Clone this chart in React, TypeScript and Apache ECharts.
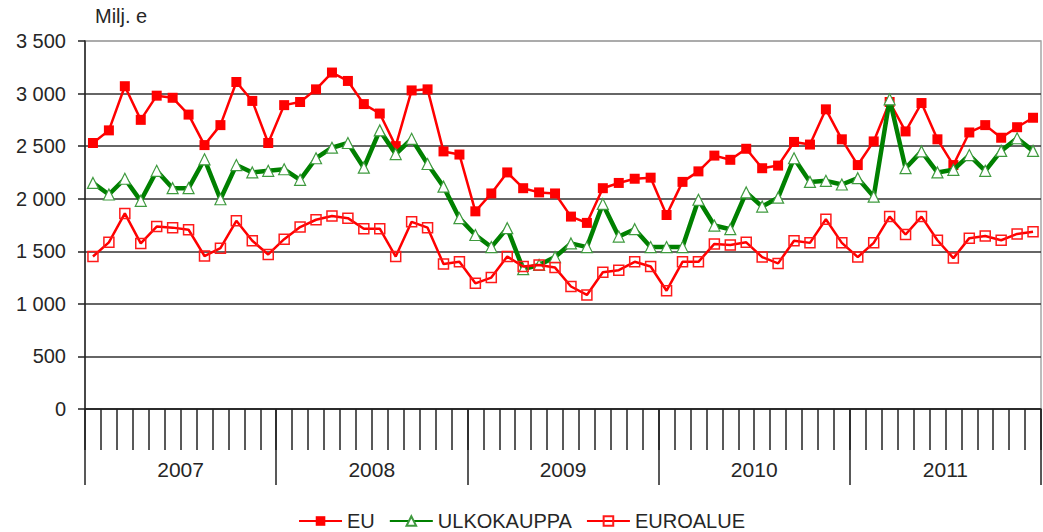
import React, { useEffect, useRef } from "react";
import * as echarts from "echarts";

const months: string[] = [];
const yearLabels = ["2007", "2008", "2009", "2010", "2011"];
for (const y of yearLabels) for (let m = 1; m <= 12; m++) months.push(`${y}-${m}`);

const euValues = [
  2530, 2650, 3070, 2750, 2980, 2960, 2800, 2510, 2700, 3110, 2930, 2530,
  2890, 2920, 3040, 3200, 3120, 2900, 2810, 2500, 3030, 3040, 2450, 2420,
  1880, 2050, 2250, 2100, 2060, 2050, 1830, 1770, 2100, 2150, 2190, 2200,
  1845, 2160, 2260, 2410, 2370, 2475, 2290, 2315, 2540, 2515, 2850, 2565,
  2320, 2545, 2920, 2640, 2910, 2565, 2320, 2630, 2700, 2580, 2680, 2770,
];
const ulkokauppaValues = [
  2150, 2040, 2190, 1980, 2265, 2100, 2100, 2375, 1995, 2320, 2250, 2265,
  2280, 2180, 2385, 2485, 2530, 2295, 2650, 2425, 2570, 2330, 2115, 1815,
  1655, 1540, 1720, 1330, 1370, 1445, 1575, 1540, 1950, 1640, 1710, 1540,
  1540, 1540, 1990, 1745, 1710, 2060, 1925, 2010, 2385, 2160, 2170, 2135,
  2195, 2020, 2945, 2290, 2450, 2250, 2275, 2415, 2265, 2455, 2575, 2455,
];
const euroalueValues = [
  1450, 1585, 1860, 1575, 1735, 1725, 1705, 1455, 1530, 1790, 1600, 1470,
  1615, 1730, 1800, 1835, 1815, 1715, 1715, 1450, 1780, 1725, 1380, 1400,
  1195, 1250, 1450, 1355, 1370, 1345, 1165, 1085, 1300, 1320, 1400, 1355,
  1125, 1400, 1400, 1570, 1560, 1585, 1445, 1385, 1600, 1580, 1805, 1580,
  1445, 1580, 1830, 1660, 1830, 1605, 1435, 1625, 1645, 1605, 1665, 1685,
];

const FONT = "Liberation Sans, Arial, sans-serif";
const TEXT = "#262626";

function fmt(v: number): string {
  if (v < 1000) return String(v);
  const th = Math.floor(v / 1000);
  const rest = String(v % 1000).padStart(3, "0");
  return `${th} ${rest}`;
}

export default function App() {
  const ref = useRef<HTMLDivElement>(null);
  useEffect(() => {
    if (!ref.current) return;
    const chart = echarts.init(ref.current, undefined, { renderer: "svg" });
    chart.setOption({
      animation: false,
      backgroundColor: "#fff",
      textStyle: { fontFamily: FONT, color: TEXT },
      grid: {
        left: 85,
        right: 2,
        top: 41,
        bottom: 123,
        show: true,
        borderColor: "#a6a6a6",
        borderWidth: 1.5,
      },
      graphic: [
        {
          type: "text",
          left: 95,
          top: 6,
          style: { text: "Milj. e", fontSize: 20, fontFamily: FONT, fill: TEXT },
        },
      ],
      legend: {
        top: 505,
        left: "center",
        itemWidth: 43,
        itemHeight: 12,
        itemGap: 14,
        textStyle: { fontSize: 20, fontFamily: FONT, color: TEXT, lineHeight: 22 },
        data: ["EU", "ULKOKAUPPA", "EUROALUE"],
      },
      xAxis: [
        {
          type: "category",
          data: months,
          boundaryGap: true,
          axisLine: { show: true, lineStyle: { color: "#222", width: 1.5 } },
          axisTick: { show: true, interval: 0, length: 41, lineStyle: { color: "#222", width: 1.5 } },
          axisLabel: { show: false },
          splitLine: { show: false },
        },
        {
          type: "category",
          data: yearLabels,
          position: "bottom",
          boundaryGap: true,
          axisLine: { show: false },
          axisTick: { show: true, interval: 0, length: 76, lineStyle: { color: "#222", width: 1.5 } },
          axisLabel: { show: true, margin: 50, fontSize: 21, fontFamily: FONT, color: TEXT },
          splitLine: { show: false },
        },
      ],
      yAxis: {
        type: "value",
        min: 0,
        max: 3500,
        interval: 500,
        axisLine: { show: true, lineStyle: { color: "#222", width: 1.5 } },
        axisTick: { show: true, length: 7, lineStyle: { color: "#222", width: 1.5 } },
        axisLabel: {
          margin: 19,
          fontSize: 20,
          fontFamily: FONT,
          color: TEXT,
          formatter: (v: number) => fmt(v),
        },
        splitLine: {
          show: true,
          lineStyle: {
            color: ["#222", "#333", "#333", "#333", "#333", "#333", "#333", "#a6a6a6"],
            width: 1.5,
          },
        },
      },
      series: [
        {
          name: "EU",
          type: "line",
          data: euValues,
          symbol: "rect",
          symbolSize: 10,
          showAllSymbol: true,
          lineStyle: { color: "#ff0000", width: 2.5 },
          itemStyle: { color: "#ff0000" },
          z: 2,
        },
        {
          name: "ULKOKAUPPA",
          type: "line",
          data: ulkokauppaValues,
          symbol: "triangle",
          symbolSize: 11,
          showAllSymbol: true,
          lineStyle: { color: "#008000", width: 4.5 },
          itemStyle: { color: "#ffffff", borderColor: "#3f9a3f", borderWidth: 1.2 },
          z: 3,
        },
        {
          name: "EUROALUE",
          type: "line",
          data: euroalueValues,
          symbol: "rect",
          symbolSize: 10,
          showAllSymbol: true,
          lineStyle: { color: "#ff0000", width: 2.5 },
          itemStyle: { color: "rgba(255,255,255,0)", borderColor: "#ff1a1a", borderWidth: 1.5 },
          z: 4,
        },
      ],
    });
    return () => chart.dispose();
  }, []);
  return (
    <div
      ref={ref}
      style={{ position: "fixed", left: 0, top: 0, width: 1043, height: 532 }}
    />
  );
}
